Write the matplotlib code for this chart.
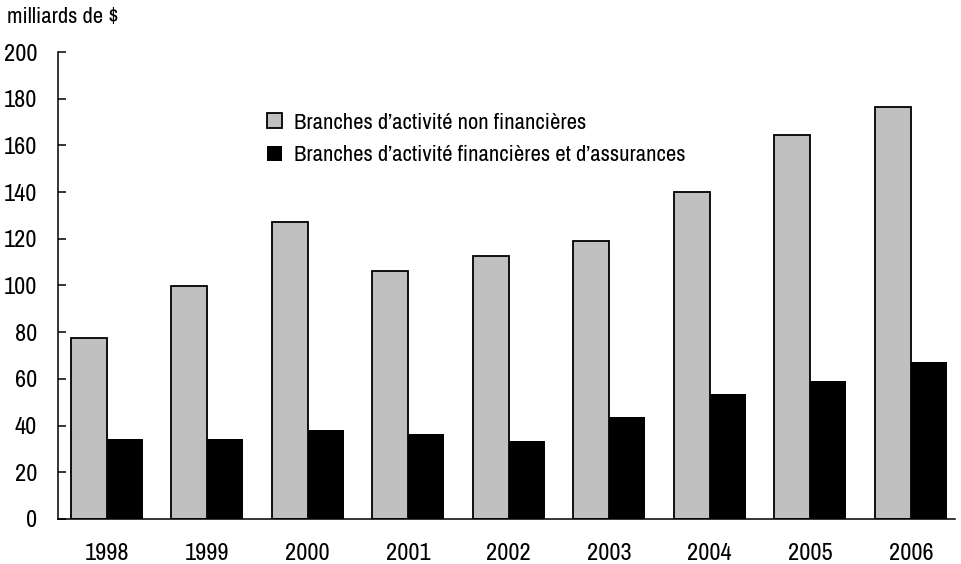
import matplotlib.pyplot as plt
import numpy as np

plt.rcParams['font.family'] = ['Archivo Narrow', 'PT Sans Narrow', 'Roboto Condensed',
                               'Liberation Sans', 'DejaVu Sans']

# Données en milliards de dollars
annees = ['1998', '1999', '2000', '2001', '2002', '2003', '2004', '2005', '2006']
non_financieres = [77.6, 99.7, 127.1, 106.1, 112.5, 118.9, 139.9, 164.4, 176.4]
financieres = [34.2, 34.2, 38.1, 36.4, 33.4, 43.6, 53.5, 59.0, 67.2]

x = np.arange(len(annees))
largeur = 0.36

fig = plt.figure(figsize=(9.61, 5.64), dpi=100)
ax = fig.add_axes([0.0604, 0.0798, 0.9334, 0.828])

ax.bar(x - largeur / 2, non_financieres, largeur, color='#c0c0c0', edgecolor='black',
       linewidth=1.3, label='Branches d\u2019activité non financières')
ax.bar(x + largeur / 2, financieres, largeur, color='black', edgecolor='black',
       linewidth=0, label='Branches d\u2019activité financières et d\u2019assurances')

ax.set_ylim(0, 200)
ax.set_xlim(-0.485, 8.44)
ax.set_yticks(range(0, 201, 20))
ax.set_xticks(x)
ax.set_xticklabels(annees)

ax.spines['top'].set_visible(False)
ax.spines['right'].set_visible(False)
ax.spines['left'].set_linewidth(1.1)
ax.spines['bottom'].set_linewidth(1.1)
ax.tick_params(axis='y', direction='in', length=6, width=1.1, pad=15, labelsize=17.5)
ax.tick_params(axis='x', length=0, pad=17.5, labelsize=17.5)

ax.legend(loc='upper left', bbox_to_anchor=(0.233, 0.870), frameon=False, fontsize=16.3,
          handlelength=0.66, handleheight=0.66, handletextpad=0.55, labelspacing=0.55,
          borderaxespad=0, borderpad=0)

fig.text(7 / 961, 1 - 17 / 564, 'milliards de $', fontsize=16.3, ha='left', va='center')

fig.savefig('out.png', dpi=100)
